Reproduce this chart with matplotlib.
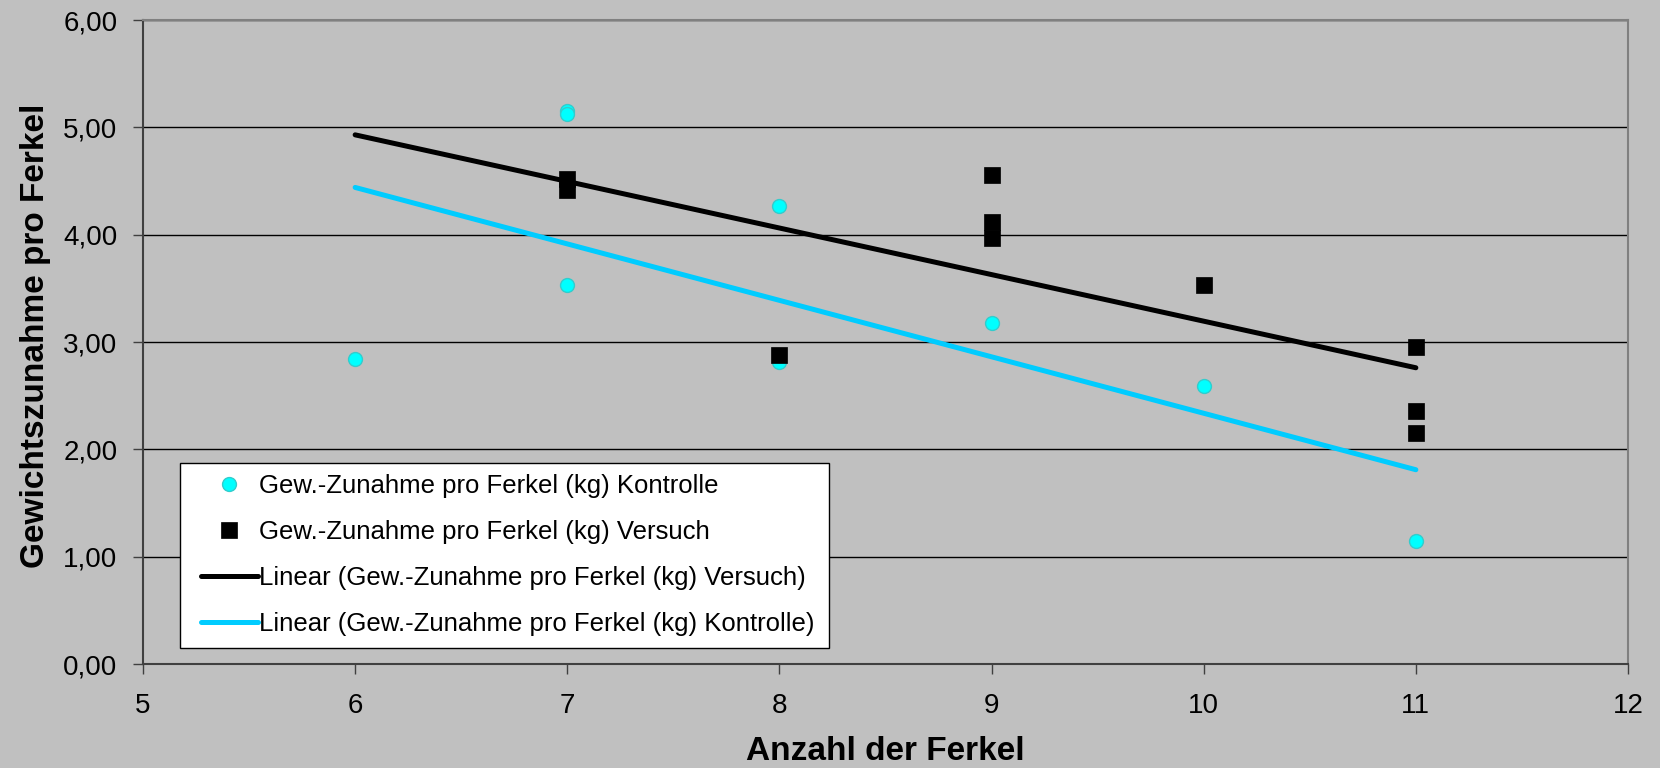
import matplotlib
matplotlib.use("Agg")
import matplotlib.pyplot as plt
from matplotlib.ticker import FixedLocator, FuncFormatter
from matplotlib.patches import Rectangle

# ---- data ----
kontrolle_x = [6, 7, 7, 7, 8, 8, 9, 10, 11]
kontrolle_y = [2.84, 5.15, 5.12, 3.53, 4.27, 2.81, 3.18, 2.59, 1.15]
versuch_x = [7, 7, 8, 9, 9, 9, 10, 11, 11, 11]
versuch_y = [4.52, 4.42, 2.88, 4.56, 4.12, 3.97, 3.53, 2.95, 2.36, 2.15]
trend_x = [6, 11]
versuch_trend = [4.93, 2.76]
kontrolle_trend = [4.44, 1.81]
x_ticks = [5, 6, 7, 8, 9, 10, 11, 12]
y_ticks = [0, 1, 2, 3, 4, 5, 6]
labels = ["Gew.-Zunahme pro Ferkel (kg) Kontrolle",
          "Gew.-Zunahme pro Ferkel (kg) Versuch",
          "Linear (Gew.-Zunahme pro Ferkel (kg) Versuch)",
          "Linear (Gew.-Zunahme pro Ferkel (kg) Kontrolle)"]
x_label = "Anzahl der Ferkel"
y_label = "Gewichtszunahme pro Ferkel"

plt.rcParams['font.family'] = ['Liberation Sans', 'DejaVu Sans']

W, H = 1660, 768
fig = plt.figure(figsize=(W / 100, H / 100), dpi=100)
bg = '#C0C0C0'
fig.patch.set_facecolor(bg)
ax = fig.add_axes([143 / W, 1 - 664 / H, (1628 - 143) / W, (664 - 20) / H])
ax.set_facecolor(bg)

l1, = ax.plot(kontrolle_x, kontrolle_y, ls='none', marker='o', ms=10,
              mfc='#00FFFF', mec='#33CCCC', mew=1, zorder=3)
l2, = ax.plot(versuch_x, versuch_y, ls='none', marker='s', ms=11.3,
              mfc='black', mec='black', mew=0.5, zorder=4)
l3, = ax.plot(trend_x, versuch_trend, color='black', lw=3.6,
              solid_capstyle='round', zorder=5)
l4, = ax.plot(trend_x, kontrolle_trend, color='#00CCFF', lw=3.6,
              solid_capstyle='round', zorder=5)

ax.set_xlim(5, 12)
ax.set_ylim(0, 6)
ax.xaxis.set_major_locator(FixedLocator(x_ticks))
ax.yaxis.set_major_locator(FixedLocator(y_ticks))
ax.yaxis.set_major_formatter(FuncFormatter(lambda v, p: f"{v:.2f}".replace('.', ',')))
ax.xaxis.set_major_formatter(FuncFormatter(lambda v, p: f"{int(v)}"))

ax.set_axisbelow(True)
ax.yaxis.grid(True, color='black', lw=1)
ax.xaxis.grid(False)

for s in ['left', 'bottom']:
    ax.spines[s].set_color('#404040')
    ax.spines[s].set_linewidth(1.5)
for s in ['top', 'right']:
    ax.spines[s].set_color('#808080')
    ax.spines[s].set_linewidth(1.5)

ax.tick_params(axis='both', direction='out', length=7.5, width=1,
               color='#404040', labelsize=20, labelcolor='black')
ax.tick_params(axis='x', pad=13.5)
ax.tick_params(axis='y', pad=11)
ax.tick_params(top=False, right=False)

ax.set_xlabel(x_label, fontsize=24, fontweight='bold', labelpad=12)
ax.set_ylabel(y_label, fontsize=24, fontweight='bold', labelpad=8.5)
ax.yaxis.label.set_y(0.509)

# legend box drawn as its own rectangle
box = Rectangle((180 / W, 1 - 648 / H), (829 - 180) / W, (648 - 463) / H,
                transform=fig.transFigure, facecolor='white', edgecolor='black',
                lw=1, zorder=6, clip_on=False)
ax.add_patch(box)

leg = ax.legend([l1, l2, l3, l4], labels, loc='upper left',
                bbox_to_anchor=(201 / W, 1 - 474 / H), bbox_transform=fig.transFigure,
                fontsize=18.5, frameon=False,
                borderaxespad=0, borderpad=0, labelspacing=0.85,
                handlelength=2.2, handletextpad=0.05, markerscale=1.0)
leg.set_zorder(7)

fig.savefig('out.png', dpi=100, facecolor=bg)
